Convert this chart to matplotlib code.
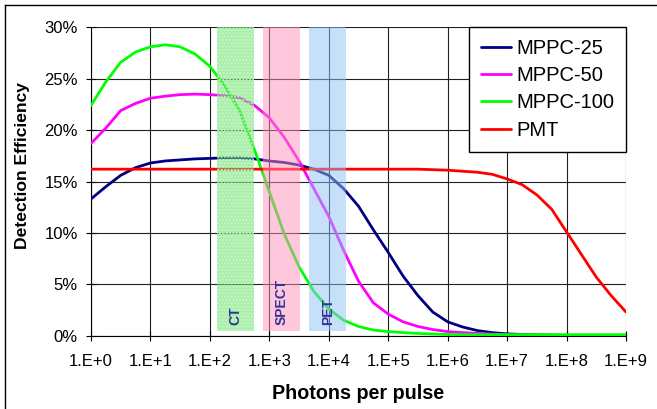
import numpy as np
import matplotlib
matplotlib.use("Agg")
import matplotlib.pyplot as plt
from matplotlib.ticker import FixedLocator, FuncFormatter
from matplotlib.lines import Line2D

plt.rcParams['font.family'] = ['Liberation Sans', 'DejaVu Sans']
plt.rcParams['hatch.linewidth'] = 1.0

# Photon counts per pulse, as powers of ten (quarter-decade steps)
log_photons = [0.0, 0.25, 0.5, 0.75, 1.0, 1.25, 1.5, 1.75, 2.0, 2.25, 2.5, 2.75,
               3.0, 3.25, 3.5, 3.75, 4.0, 4.25, 4.5, 4.75, 5.0, 5.25, 5.5, 5.75,
               6.0, 6.25, 6.5, 6.75, 7.0, 7.25, 7.5, 7.75, 8.0, 8.25, 8.5, 8.75, 9.0]

# Detection efficiency (%)
mppc_25 = [13.3, 14.5, 15.6, 16.35, 16.8, 17.0, 17.1, 17.2, 17.25, 17.3, 17.3, 17.2,
           17.0, 16.85, 16.6, 16.2, 15.6, 14.3, 12.6, 10.3, 8.1, 5.8, 3.9, 2.3,
           1.35, 0.85, 0.5, 0.3, 0.18, 0.12, 0.08, 0.05, 0.03, 0.02, 0.01, 0.01, 0.01]
mppc_50 = [18.7, 20.2, 21.9, 22.6, 23.1, 23.3, 23.45, 23.5, 23.45, 23.35, 23.15, 22.4,
           21.2, 19.3, 17.0, 14.3, 11.6, 8.3, 5.3, 3.2, 2.1, 1.35, 0.9, 0.6,
           0.4, 0.3, 0.22, 0.15, 0.1, 0.08, 0.05, 0.03, 0.02, 0.01, 0.01, 0.01, 0.01]
mppc_100 = [22.4, 24.7, 26.6, 27.6, 28.1, 28.3, 28.1, 27.4, 26.2, 24.3, 21.9, 18.1,
            14.0, 9.9, 6.7, 4.3, 2.6, 1.5, 0.9, 0.55, 0.4, 0.3, 0.22, 0.16,
            0.12, 0.1, 0.1, 0.1, 0.1, 0.1, 0.1, 0.1, 0.1, 0.1, 0.1, 0.1, 0.1]
pmt = [16.2, 16.2, 16.2, 16.2, 16.2, 16.2, 16.2, 16.2, 16.2, 16.2, 16.2, 16.2,
       16.2, 16.2, 16.2, 16.2, 16.2, 16.2, 16.2, 16.2, 16.2, 16.2, 16.2, 16.15,
       16.1, 16.0, 15.9, 15.7, 15.25, 14.7, 13.7, 12.3, 10.1, 7.9, 5.7, 3.9, 2.3]

series_names = ["MPPC-25", "MPPC-50", "MPPC-100", "PMT"]
series_colors = ["#000080", "#ff00ff", "#00ff00", "#ff0000"]

# Imaging modality ranges (photons per pulse)
band_names = ["CT", "SPECT", "PET"]
band_lo = [132, 787, 4680]
band_hi = [555, 3300, 19600]
band_top = 30.0
band_bottom = 0.5

x_tick_powers = list(range(0, 10))
y_ticks = [0, 5, 10, 15, 20, 25, 30]

W, H = 657, 409
fig = plt.figure(figsize=(W / 100, H / 100), dpi=100)
ax = fig.add_axes([91 / W, 1 - 335.7 / H, (626 - 91) / W, (335.7 - 27.3) / H])

x = [10 ** p for p in log_photons]
for name, vals, col in zip(series_names, [mppc_25, mppc_50, mppc_100, pmt], series_colors):
    ax.plot(x, [v / 100 for v in vals], color=col, lw=2.0, label=name,
            solid_capstyle='round', solid_joinstyle='round', zorder=3)

# Translucent bands over the curves
band_face = ["#66e066", "#ff91b9", "#91c3f5"]
band_alpha = [0.55, 0.5, 0.5]
for name, lo, hi, fc, a in zip(band_names, band_lo, band_hi, band_face, band_alpha):
    ax.fill_between([lo, hi], band_bottom / 100, band_top / 100, color=fc, alpha=a,
                    lw=0, zorder=4)
    if name == "CT":
        ax.fill_between([lo, hi], band_bottom / 100, band_top / 100, facecolor='none',
                        edgecolor='#c8f8c8', hatch='.....', lw=0, zorder=4)
    xc = 10 ** ((np.log10(lo) + np.log10(hi)) / 2)
    ax.text(xc, 0.0105, name, rotation=90, ha='center', va='bottom',
            fontsize=10, fontweight='bold', color='#333399', zorder=5)

ax.set_xscale('log')
ax.set_xlim(1, 1e9)
ax.set_ylim(0, 0.30)
ax.xaxis.set_major_locator(FixedLocator([10 ** p for p in x_tick_powers]))
ax.xaxis.set_minor_locator(FixedLocator([]))
ax.xaxis.set_major_formatter(FuncFormatter(lambda v, _: "1.E+%d" % round(np.log10(v))))
ax.yaxis.set_major_locator(FixedLocator([t / 100 for t in y_ticks]))
ax.yaxis.set_major_formatter(FuncFormatter(lambda v, _: "%d%%" % round(v * 100)))

ax.grid(True, which='major', color='#202020', lw=0.8, zorder=1)
ax.set_axisbelow(True)
for s in ['top', 'right']:
    ax.spines[s].set_visible(False)
for s in ['left', 'bottom']:
    ax.spines[s].set_color('black')
    ax.spines[s].set_linewidth(0.8)
ax.tick_params(axis='both', direction='inout', length=7, width=0.8, color='black',
               labelsize=12, labelcolor='black')
ax.tick_params(axis='x', pad=9.5)
ax.tick_params(axis='y', pad=6)

ax.set_xlabel("Photons per pulse", fontsize=14.2, fontweight='bold', labelpad=11)
ax.set_ylabel("Detection Efficiency", fontsize=12.6, fontweight='bold', labelpad=10)
ax.yaxis.label.set_y(0.553)

leg = ax.legend(loc='upper right', bbox_to_anchor=(1.0, 1.0), borderaxespad=0,
                fontsize=14.5, frameon=True, fancybox=False, framealpha=1,
                edgecolor='black', handlelength=1.5, handletextpad=0.25,
                labelspacing=0.4, borderpad=0.6)
leg.get_frame().set_linewidth(1.0)
leg.set_zorder(6)
for h in leg.get_lines():
    h.set_linewidth(2.0)

# Outer chart frame
fig.add_artist(Line2D([4.5 / W, 4.5 / W], [0, 1 - 4.5 / H], color='black', lw=1.0))
fig.add_artist(Line2D([4.5 / W, 1], [1 - 4.5 / H, 1 - 4.5 / H], color='black', lw=1.0))

fig.savefig("out.png", dpi=100)
